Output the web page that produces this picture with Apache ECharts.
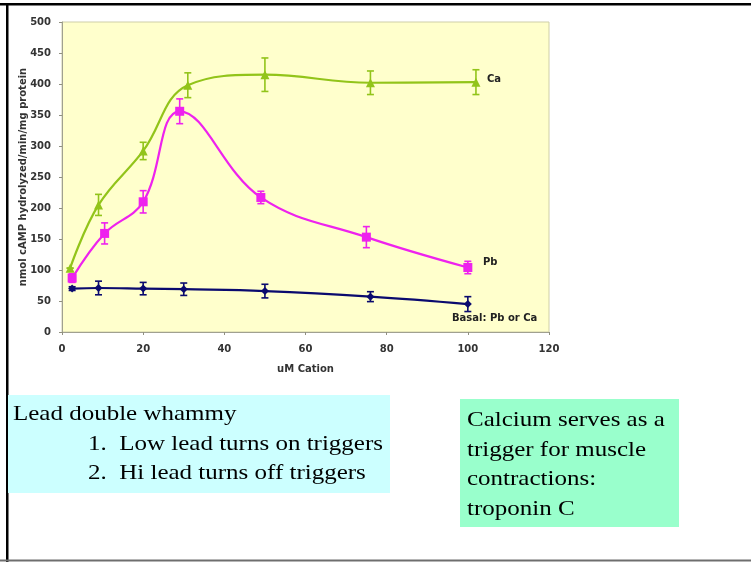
<!DOCTYPE html>
<html>
<head>
<meta charset="utf-8">
<script src="https://cdn.jsdelivr.net/npm/echarts@6/dist/echarts.min.js"></script>
<style>
  html, body { margin: 0; padding: 0; background: #fff; }
  #chart { width: 751px; height: 562px; }
</style>
</head>
<body>
<div id="chart"></div>
<script>
// uM cation concentration, activity (nmol cAMP hydrolyzed/min/mg protein) and error
const caX   = [2, 9, 20, 31, 50, 76, 102];
const caY   = [103, 205, 292, 398, 415, 402, 403];
const caErr = [0, 17, 14, 20, 27, 19, 20];

const pbX   = [2.5, 10.5, 20, 29, 49, 75, 100];
const pbY   = [87, 159, 210, 356, 217, 153, 104];
const pbErr = [7, 17, 18, 20, 10, 17, 10];

const basalX   = [2.5, 9, 20, 30, 50, 76, 100];
const basalY   = [70, 71, 70, 69, 66, 57, 45];
const basalErr = [3, 11, 10, 10, 11, 8, 12];

const xTicks = [0, 20, 40, 60, 80, 100, 120];
const yTicks = [0, 50, 100, 150, 200, 250, 300, 350, 400, 450, 500];

const COLORS = { ca: '#92C41A', pb: '#EE22EE', basal: '#0A0A6E' };

function pairs(xs, ys) { return xs.map((x, i) => [x, ys[i]]); }
function errRows(xs, ys, es) { return xs.map((x, i) => [x, ys[i] - es[i], ys[i] + es[i]]); }

function errorSeries(name, xs, ys, es, color) {
  return {
    name: name + ' err',
    type: 'custom',
    z: 3,
    data: errRows(xs, ys, es),
    renderItem: function (params, api) {
      const lo = api.coord([api.value(0), api.value(1)]);
      const hi = api.coord([api.value(0), api.value(2)]);
      const w = 3.5;
      const st = { stroke: color, lineWidth: 1.6 };
      return {
        type: 'group',
        children: [
          { type: 'line', shape: { x1: lo[0], y1: lo[1], x2: hi[0], y2: hi[1] }, style: st },
          { type: 'line', shape: { x1: lo[0] - w, y1: lo[1], x2: lo[0] + w, y2: lo[1] }, style: st },
          { type: 'line', shape: { x1: hi[0] - w, y1: hi[1], x2: hi[0] + w, y2: hi[1] }, style: st }
        ]
      };
    }
  };
}

function lineSeries(name, xs, ys, color, symbol, size) {
  return {
    name: name,
    type: 'line',
    smooth: 0.4,
    z: 4,
    data: pairs(xs, ys),
    symbol: symbol,
    symbolSize: size,
    lineStyle: { color: color, width: 2.2 },
    itemStyle: { color: color },
    emphasis: { disabled: true }
  };
}

const sans = '"DejaVu Sans", Verdana, sans-serif';
const axisFont = { fontFamily: sans, fontWeight: 'bold', fontSize: 10, color: '#333' };
const serif = '"Liberation Serif", "Times New Roman", serif';
const noteFont = '21px ' + serif;
const noteScale = 1.19;

const chart = echarts.init(document.getElementById('chart'), null, { renderer: 'canvas' });

chart.setOption({
  animation: false,
  backgroundColor: '#ffffff',
  grid: {
    left: 62, right: 202, top: 22, bottom: 230,
    show: true, backgroundColor: '#FFFFCC', borderColor: '#CFCFA8', borderWidth: 1
  },
  xAxis: {
    type: 'value', min: 0, max: 120, interval: 20,
    name: 'uM Cation', nameLocation: 'middle', nameGap: 32, nameMoveOverlap: false,
    nameTextStyle: axisFont,
    axisLine: { lineStyle: { color: '#A0A090', width: 1 } },
    axisTick: { show: true, length: 3, lineStyle: { color: '#909080' } },
    axisLabel: Object.assign({}, axisFont, { margin: 12, formatter: v => xTicks.includes(v) ? String(v) : '' }),
    splitLine: { show: false }
  },
  yAxis: {
    type: 'value', min: 0, max: 500, interval: 50,
    name: 'nmol cAMP hydrolyzed/min/mg protein', nameLocation: 'middle', nameGap: 34, nameMoveOverlap: false,
    nameTextStyle: axisFont,
    axisLine: { show: true, lineStyle: { color: '#A0A090', width: 1 } },
    axisTick: { show: true, length: 3, lineStyle: { color: '#909080' } },
    axisLabel: Object.assign({}, axisFont, { margin: 11, formatter: v => yTicks.includes(v) ? String(v) : '' }),
    splitLine: { show: false }
  },
  series: [
    errorSeries('Ca', caX, caY, caErr, COLORS.ca),
    errorSeries('Pb', pbX, pbY, pbErr, COLORS.pb),
    errorSeries('Basal', basalX, basalY, basalErr, COLORS.basal),
    lineSeries('Ca', caX, caY, COLORS.ca, 'triangle', 9),
    lineSeries('Pb', pbX, pbY, COLORS.pb, 'rect', 9),
    lineSeries('Basal', basalX, basalY, COLORS.basal, 'diamond', 8)
  ],
  graphic: [
    // slide frame
    { type: 'rect', shape: { x: 0, y: 3, width: 751, height: 2.5 }, style: { fill: '#000' }, silent: true },
    { type: 'rect', shape: { x: 6, y: 3, width: 2.5, height: 559 }, style: { fill: '#000' }, silent: true },
    { type: 'rect', shape: { x: 0, y: 559.5, width: 751, height: 2 }, style: { fill: '#6E6E6E' }, silent: true },

    // series names beside the curves
    { type: 'text', x: 487, y: 74, style: { text: 'Ca', font: 'bold 10px ' + sans, fill: '#222' } },
    { type: 'text', x: 483, y: 257, style: { text: 'Pb', font: 'bold 10px ' + sans, fill: '#222' } },
    { type: 'text', x: 452, y: 313, style: { text: 'Basal: Pb or Ca', font: 'bold 10px ' + sans, fill: '#222' } },

    // note boxes
    { type: 'rect', shape: { x: 8, y: 395, width: 382, height: 98 }, style: { fill: '#CCFFFF' }, silent: true },
    { type: 'text', x: 13, y: 404, scaleX: noteScale, style: { text: 'Lead double whammy', font: noteFont, fill: '#000' } },
    { type: 'text', x: 88, y: 434, scaleX: noteScale, style: { text: '1.  Low lead turns on triggers', font: noteFont, fill: '#000' } },
    { type: 'text', x: 88, y: 463, scaleX: noteScale, style: { text: '2.  Hi lead turns off triggers', font: noteFont, fill: '#000' } },

    { type: 'rect', shape: { x: 460, y: 399, width: 219, height: 128 }, style: { fill: '#99FFCC' }, silent: true },
    { type: 'text', x: 467, y: 406, scaleX: noteScale, style: { text: 'Calcium serves as a\ntrigger for muscle\ncontractions:\ntroponin C', font: noteFont, lineHeight: 29.5, fill: '#000' } }
  ]
});
</script>
</body>
</html>
